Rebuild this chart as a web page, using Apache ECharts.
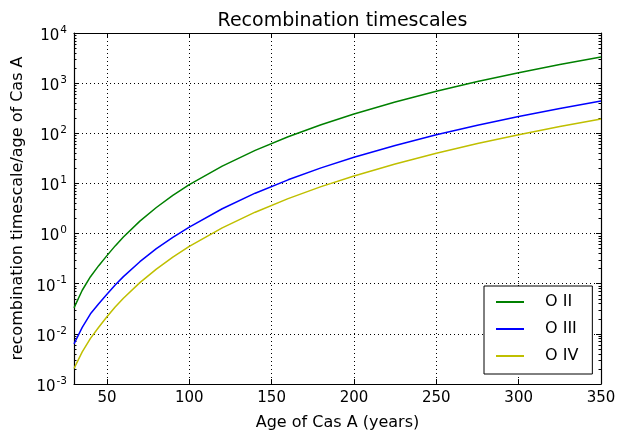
<!DOCTYPE html>
<html>
<head>
<meta charset="utf-8">
<script src="https://cdn.jsdelivr.net/npm/echarts@6/dist/echarts.min.js"></script>
<style>
html,body{margin:0;padding:0;background:#fff;}
#chart{width:623px;height:430px;}
</style>
</head>
<body>
<div id="chart"></div>
<script>
// ---- data ----
const ages = [30, 35, 40, 45, 50, 55, 60, 70, 80, 90, 100, 120, 140, 160, 180, 200, 225, 250, 275, 300, 325, 350];
const oII  = [0.0329, 0.0741, 0.138, 0.229, 0.363, 0.568, 0.856, 1.77, 3.31, 5.75, 9.44, 22.2, 45.6, 85.2, 148, 242, 420, 688, 1074, 1614, 2348, 3321];
const oIII = [0.00631, 0.0135, 0.0251, 0.0398, 0.0615, 0.0940, 0.1385, 0.275, 0.499, 0.844, 1.35, 3.13, 6.39, 11.8, 20.4, 33.2, 57.2, 93.1, 145, 216, 313, 441];
const oIV  = [0.00204, 0.00437, 0.00813, 0.0135, 0.0220, 0.0343, 0.0514, 0.105, 0.196, 0.340, 0.555, 1.30, 2.67, 4.98, 8.63, 14.1, 24.5, 40.0, 62.5, 93.8, 136, 193];
const seriesNames = ['O II', 'O III', 'O IV'];
const xTickValues = [50, 100, 150, 200, 250, 300, 350];
const yDecadeExps = [-3, -2, -1, 0, 1, 2, 3, 4];
const minorMultipliers = [2, 3, 4, 5, 6, 7, 8, 9];

const minorLogs = [];
yDecadeExps.slice(0, -1).forEach(e => minorMultipliers.forEach(m => minorLogs.push(e + Math.log10(m))));

const pair = arr => ages.map((a, i) => [a, arr[i]]);
const FONT = 'DejaVu Sans';

const chart = echarts.init(document.getElementById('chart'), null, {renderer: 'canvas'});
const gridLine = {show: true, lineStyle: {color: '#000', width: 1, type: [1, 3]}};
const axisLine = {show: true, onZero: false, lineStyle: {color: '#000', width: 1.2}};

const option = {
  animation: false,
  backgroundColor: '#fff',
  title: {
    text: 'Recombination timescales',
    left: 337.5, top: 7, textAlign: 'center',
    textStyle: {fontFamily: FONT, fontSize: 19, fontWeight: 'normal', color: '#000'}
  },
  grid: {left: 74, right: 22, top: 33, bottom: 46, containLabel: false, outerBoundsMode: 'none'},
  legend: {
    data: seriesNames,
    orient: 'vertical',
    left: 484, top: 286,
    padding: [7, 14, 9, 12],
    itemGap: 9,
    itemWidth: 28, itemHeight: 2,
    icon: 'rect',
    borderColor: '#000', borderWidth: 1,
    backgroundColor: '#fff',
    textStyle: {fontFamily: FONT, fontSize: 16, color: '#000', padding: [0, 0, 0, 16], lineHeight: 18}
  },
  xAxis: [
    {
      type: 'value', min: 30, max: 350, position: 'bottom',
      axisLine: axisLine,
      axisTick: {show: true, inside: true, length: 5, lineStyle: {color: '#000'}, customValues: xTickValues},
      axisLabel: {show: true, customValues: xTickValues, margin: 7, fontFamily: FONT, fontSize: 15, color: '#000'},
      splitLine: gridLine,
      name: 'Age of Cas A (years)', nameLocation: 'middle', nameGap: 31,
      nameTextStyle: {fontFamily: FONT, fontSize: 16, color: '#000'}
    },
    {
      type: 'value', min: 30, max: 350, position: 'top',
      axisLine: axisLine,
      axisTick: {show: true, inside: true, length: 5, lineStyle: {color: '#000'}, customValues: xTickValues},
      axisLabel: {show: false},
      splitLine: {show: false}
    }
  ],
  yAxis: [
    {
      type: 'log', logBase: 10, min: 0.001, max: 10000, position: 'left',
      axisLine: axisLine,
      axisTick: {show: true, inside: true, length: 5, lineStyle: {color: '#000'}},
      splitLine: gridLine,
      axisLabel: {
        margin: 7, color: '#000', fontFamily: FONT,
        formatter: v => '{b|10}{s|' + Math.round(Math.log10(v)) + '}',
        rich: {
          b: {fontFamily: FONT, fontSize: 15, color: '#000', padding: [6, 0, 0, 0]},
          s: {fontFamily: FONT, fontSize: 10.5, color: '#000', padding: [0, 0, 6, 1]}
        }
      },
      name: 'recombination timescale/age of Cas A', nameLocation: 'middle', nameGap: 45,
      nameTextStyle: {fontFamily: FONT, fontSize: 16, color: '#000'}
    },
    {
      type: 'value', min: -3, max: 4, position: 'left',
      axisLine: {show: false, onZero: false},
      axisTick: {show: true, inside: true, length: 2.5, lineStyle: {color: '#000'}, customValues: minorLogs},
      axisLabel: {show: false}, splitLine: {show: false}
    },
    {
      type: 'log', logBase: 10, min: 0.001, max: 10000, position: 'right',
      axisLine: axisLine,
      axisTick: {show: true, inside: true, length: 5, lineStyle: {color: '#000'}},
      axisLabel: {show: false}, splitLine: {show: false}
    },
    {
      type: 'value', min: -3, max: 4, position: 'right',
      axisLine: {show: false, onZero: false},
      axisTick: {show: true, inside: true, length: 2.5, lineStyle: {color: '#000'}, customValues: minorLogs},
      axisLabel: {show: false}, splitLine: {show: false}
    }
  ],
  series: [
    {name: seriesNames[0], type: 'line', data: pair(oII), xAxisIndex: 0, yAxisIndex: 0, showSymbol: false, symbol: 'none', smooth: false, lineStyle: {color: '#008000', width: 1.5}, itemStyle: {color: '#008000'}},
    {name: seriesNames[1], type: 'line', data: pair(oIII), xAxisIndex: 0, yAxisIndex: 0, showSymbol: false, symbol: 'none', smooth: false, lineStyle: {color: '#0000ff', width: 1.5}, itemStyle: {color: '#0000ff'}},
    {name: seriesNames[2], type: 'line', data: pair(oIV), xAxisIndex: 0, yAxisIndex: 0, showSymbol: false, symbol: 'none', smooth: false, lineStyle: {color: '#bfbf00', width: 1.5}, itemStyle: {color: '#bfbf00'}}
  ]
};
chart.setOption(option);
</script>
</body>
</html>
